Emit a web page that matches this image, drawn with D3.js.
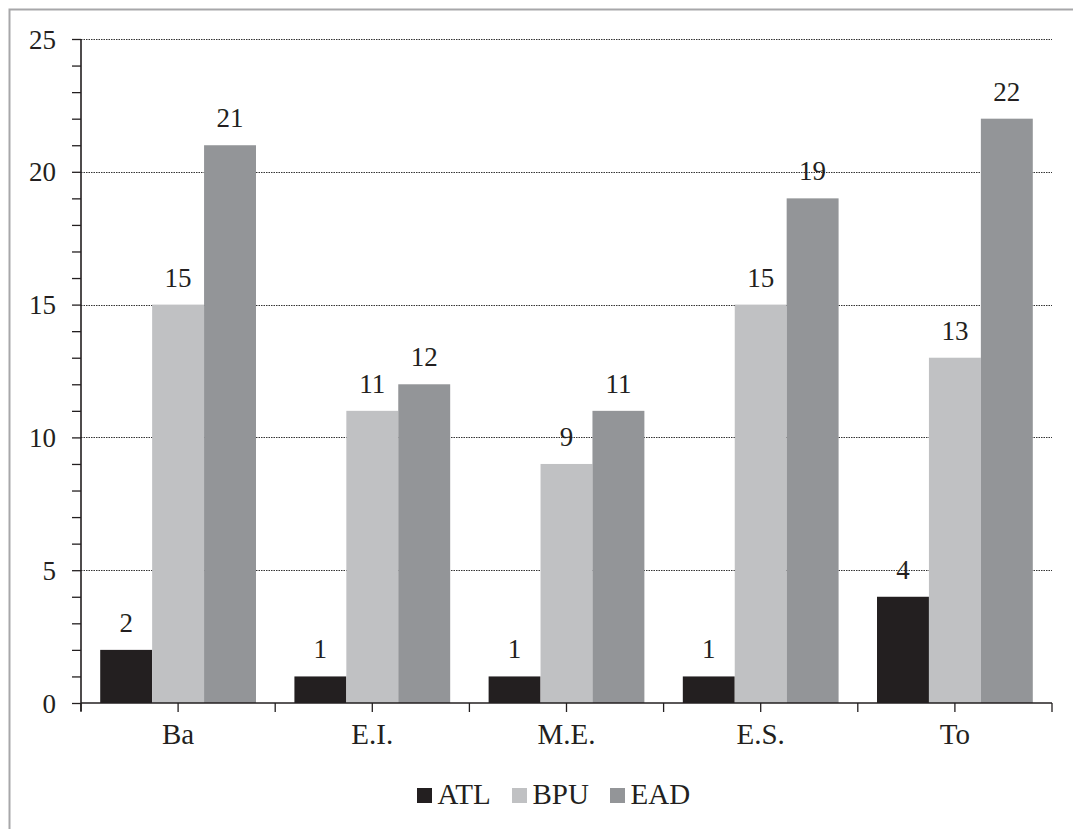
<!DOCTYPE html>
<html>
<head>
<meta charset="utf-8">
<script src="https://cdn.jsdelivr.net/npm/d3@7/dist/d3.min.js"></script>
<style>
  html, body { margin: 0; padding: 0; background: #fff; }
  svg { display: block; }
  text { font-family: "Liberation Serif", "Times New Roman", serif; fill: #231f20; }
</style>
</head>
<body>
<svg id="chart" width="1073" height="829"></svg>
<script>
const categories = ["Ba", "E.I.", "M.E.", "E.S.", "To"];
const seriesNames = ["ATL", "BPU", "EAD"];
const ATL = [2, 1, 1, 1, 4];
const BPU = [15, 11, 9, 15, 13];
const EAD = [21, 12, 11, 19, 22];
const yTicks = [0, 5, 10, 15, 20, 25];
const colors = ["#231f20", "#c0c1c3", "#939598"];

(function () {
const series = [ATL, BPU, EAD];
const svg = d3.select("#chart");
const FS = 27, FL = 29;

// frame
svg.append("path")
  .attr("d", "M9.5,1073 L9.5,9.5 L1073,9.5")
  .attr("fill", "none").attr("stroke", "#a7a7a9").attr("stroke-width", 2);

const mLeft = 81, mRight = 1052, mTop = 39, mBottom = 703;
const x = d3.scaleBand().domain(categories).range([mLeft, mRight]).paddingInner(0).paddingOuter(0);
const xs = d3.scaleBand().domain(seriesNames).range([0, x.bandwidth()]).paddingInner(0).paddingOuter(0.37);
const y = d3.scaleLinear().domain([0, 25]).range([mBottom, mTop]);

// gridlines
svg.append("g").selectAll("line").data(yTicks.filter(d => d > 0)).join("line")
  .attr("x1", mLeft).attr("x2", mRight)
  .attr("y1", d => Math.round(y(d)) + 0.5).attr("y2", d => Math.round(y(d)) + 0.5)
  .attr("stroke", "#333").attr("stroke-width", 1).attr("stroke-dasharray", "1.5,1");

// bars
const groups = svg.append("g").selectAll("g").data(categories).join("g")
  .attr("transform", d => `translate(${x(d)},0)`);
groups.selectAll("rect").data((c, i) => seriesNames.map((s, j) => ({ s, v: series[j][i], j })))
  .join("rect")
  .attr("x", d => xs(d.s)).attr("width", xs.bandwidth())
  .attr("y", d => y(d.v)).attr("height", d => y(0) - y(d.v))
  .attr("fill", d => colors[d.j]);
groups.selectAll("text").data((c, i) => seriesNames.map((s, j) => ({ s, v: series[j][i], j })))
  .join("text")
  .attr("x", d => xs(d.s) + xs.bandwidth() / 2).attr("y", d => y(d.v) - 18)
  .attr("text-anchor", "middle").attr("font-size", FS)
  .text(d => d.v);

// y axis
const yAxis = d3.axisLeft(y).tickValues(d3.range(0, 26, 1)).tickSize(10).tickFormat(d => yTicks.includes(d) ? d : "");
const gy = svg.append("g").attr("transform", `translate(${mLeft},0)`).call(yAxis);
gy.select(".domain").attr("stroke", "#231f20").attr("stroke-width", 1.6).attr("d", `M0,${mTop}V${mBottom + 8}`);
gy.selectAll(".tick line").attr("stroke", "#231f20").attr("stroke-width", 1.3).attr("x2", -9);
gy.selectAll(".tick text").attr("font-size", FS).attr("font-family", "Liberation Serif").attr("fill", "#231f20").attr("x", -25).attr("dy", "0.34em");

// x axis
const xAxis = d3.axisBottom(x).tickSize(0).tickPadding(30);
const gx = svg.append("g").attr("transform", `translate(0,${mBottom})`).call(xAxis);
gx.select(".domain").attr("stroke", "#231f20").attr("stroke-width", 1.6).attr("d", `M${mLeft},0H${mRight}`);
gx.selectAll(".tick text").attr("font-size", FL).attr("font-family", "Liberation Serif").attr("fill", "#231f20").attr("y", 41).attr("dy", 0);
const tickXs = [];
categories.forEach(c => { tickXs.push(x(c)); tickXs.push(x(c) + x.bandwidth() / 2); });
tickXs.push(mRight);
gx.append("g").selectAll("line").data(tickXs).join("line")
  .attr("x1", d => d).attr("x2", d => d).attr("y1", 0).attr("y2", 9)
  .attr("stroke", "#231f20").attr("stroke-width", 1.3);

// legend
const legendX = [417, 512, 610];
const lg = svg.append("g").selectAll("g").data(seriesNames).join("g")
  .attr("transform", (d, i) => `translate(${legendX[i]},788)`);
lg.append("rect").attr("width", 15).attr("height", 15).attr("fill", (d, i) => colors[i]);
lg.append("text").attr("x", 20.5).attr("y", 16).attr("font-size", FL).text(d => d);
})();
</script>
</body>
</html>
